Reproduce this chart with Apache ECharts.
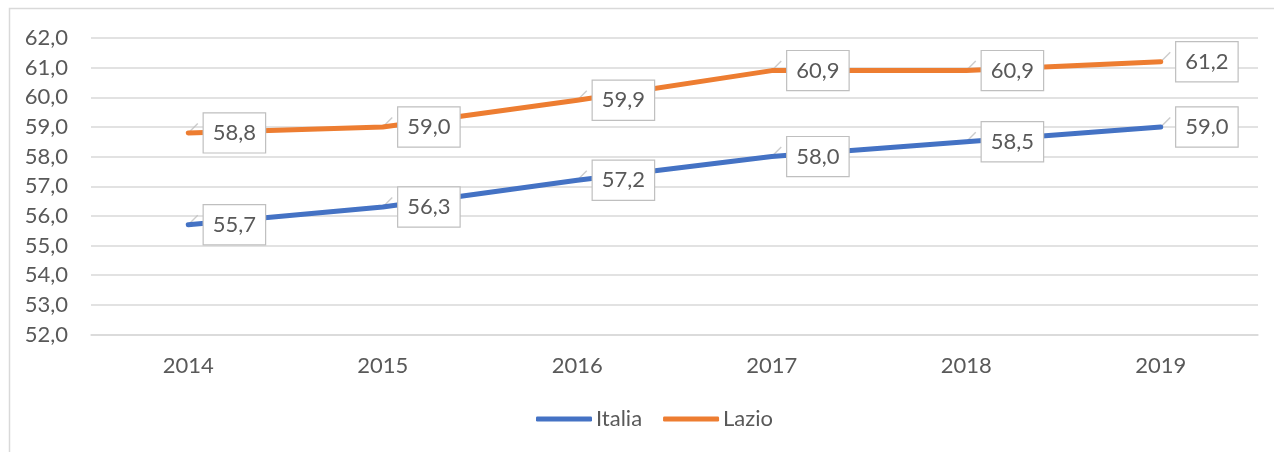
<!DOCTYPE html>
<html>
<head>
<meta charset="utf-8">
<script src="https://cdn.jsdelivr.net/npm/echarts@6/dist/echarts.min.js"></script>
<style>
  html, body { margin: 0; padding: 0; background: #fff; }
  #chart { width: 1274px; height: 452px; }
</style>
</head>
<body>
<div id="chart"></div>
<script>
// data
const years = ['2014', '2015', '2016', '2017', '2018', '2019'];
const italia = [55.7, 56.3, 57.2, 58.0, 58.5, 59.0];
const lazio = [58.8, 59.0, 59.9, 60.9, 60.9, 61.2];
const seriesNames = ['Italia', 'Lazio'];

const FONT = 'Lato, "Open Sans", sans-serif';
const TXT = '#595959';
const commaFmt = v => Number(v).toFixed(1).replace('.', ',');

let chart = echarts.init(document.getElementById('chart'));

function lineSeries(name, data, color) {
    return {
        name: name,
        type: 'line',
        data: data,
        symbol: 'circle',
        symbolSize: 1,
        showSymbol: true,
        z: 3,
        lineStyle: { color: color, width: 5, cap: 'round', join: 'round' },
        itemStyle: { color: color },
        label: {
            show: true,
            position: 'right',
            distance: 15,
            formatter: p => commaFmt(p.value),
            fontFamily: FONT,
            fontSize: 22,
            color: TXT,
            backgroundColor: '#fff',
            borderColor: '#bfbfbf',
            borderWidth: 1.2,
            padding: [9, 9, 8, 9]
        },
        labelLayout: { hideOverlap: false }
    };
}

// small grey leader ticks Excel draws next to each point
function leaderSeries(data) {
    return {
        type: 'scatter',
        data: data,
        symbol: 'path://M0,9 L9,0 L10,1 L1,10 Z',
        symbolSize: [10, 10],
        symbolOffset: [5, -5],
        itemStyle: { color: '#bfbfbf' },
        z: 2,
        silent: true,
        legendHoverLink: false
    };
}

let option = {
    animation: false,
    textStyle: { fontFamily: FONT },
    graphic: [{
        type: 'rect',
        shape: { x: 9.5, y: 8.5, width: 1320, height: 500 },
        style: { fill: null, stroke: '#d9d9d9', lineWidth: 1.5 },
        z: -1
    }],
    grid: { left: 91, right: 16, top: 38, bottom: 117.5 },
    legend: {
        data: seriesNames,
        bottom: 17,
        left: 531,
        icon: 'roundRect',
        itemWidth: 56,
        itemHeight: 5,
        itemGap: 21,
        textStyle: { fontFamily: FONT, fontSize: 22, color: TXT, padding: [0, 0, 0, -1] }
    },
    xAxis: {
        type: 'category',
        data: years,
        boundaryGap: true,
        axisLine: { show: true, lineStyle: { color: '#d9d9d9', width: 1.5 } },
        axisTick: { show: false },
        axisLabel: { fontFamily: FONT, fontSize: 22, color: TXT, margin: 20 }
    },
    yAxis: {
        type: 'value',
        min: 52,
        max: 62,
        interval: 1,
        axisLine: { show: false },
        axisTick: { show: false },
        splitLine: { lineStyle: { color: '#d9d9d9', width: 1.5 } },
        axisLabel: {
            fontFamily: FONT, fontSize: 22, color: TXT, margin: 23,
            formatter: v => commaFmt(v)
        }
    },
    series: [
        lineSeries(seriesNames[0], italia, '#4472c4'),
        lineSeries(seriesNames[1], lazio, '#ed7d31'),
        leaderSeries(italia),
        leaderSeries(lazio)
    ]
};

chart.setOption(option);
</script>
</body>
</html>
